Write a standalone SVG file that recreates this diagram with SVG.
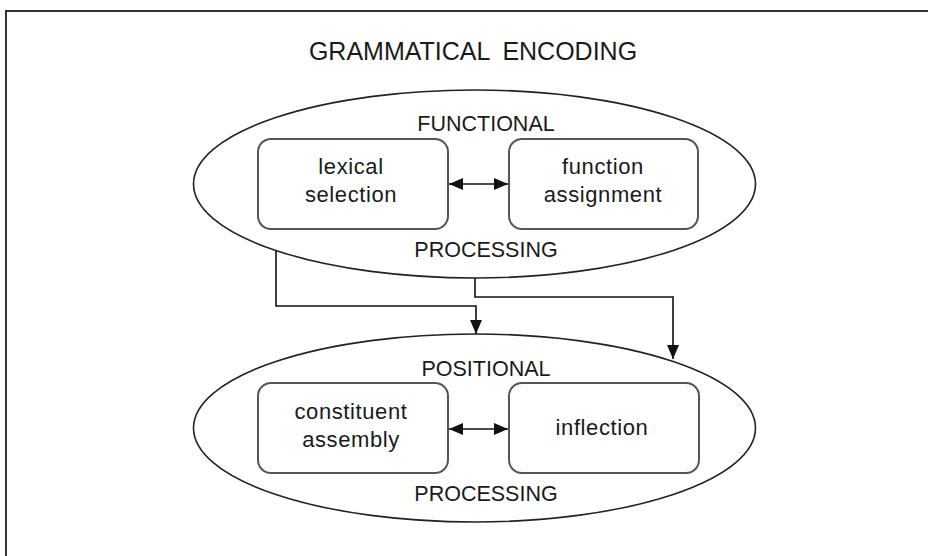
<svg xmlns="http://www.w3.org/2000/svg" width="928" height="556" viewBox="0 0 928 556">
  <style>
    .frame { fill: none; stroke: #333; stroke-width: 2; }
    .oval { fill: none; stroke: #222; stroke-width: 1.6; }
    .box { fill: #fff; stroke: #555; stroke-width: 2; }
    .label { font-family: "Liberation Sans", Arial, sans-serif; fill: #1a1a1a; text-anchor: middle; }
    .cap { font-size: 21.5px; }
    .title { font-size: 25px; word-spacing: 6px; }
    .txt { font-size: 22px; letter-spacing: 0.6px; }
    .wire { fill: none; stroke: #111; stroke-width: 1.6; }
  </style>
  <defs>
    <marker id="head" viewBox="0 0 14 12" refX="14" refY="6" markerWidth="14" markerHeight="12" markerUnits="userSpaceOnUse" orient="auto-start-reverse">
      <path d="M0,0 L14,6 L0,12 Z" fill="#111"/>
    </marker>
  </defs>

  <rect width="928" height="556" fill="#fff"/>
  <!-- outer frame (top and left edges) -->
  <path class="frame" d="M6,556 V11 H928"/>

  <text class="label title" x="473" y="60">GRAMMATICAL ENCODING</text>

  <g id="functional">
    <ellipse class="oval" cx="474.5" cy="184" rx="281" ry="94"/>
    <text class="label cap" x="486" y="131">FUNCTIONAL</text>
    <text class="label cap" x="486" y="257">PROCESSING</text>
  </g>

  <g id="lexical-selection">
    <rect class="box" x="258" y="139" width="190" height="90" rx="13"/>
    <text class="label txt" x="351" y="174">lexical</text>
    <text class="label txt" x="351" y="202">selection</text>
  </g>

  <g id="function-assignment">
    <rect class="box" x="509" y="139" width="189" height="90" rx="13"/>
    <text class="label txt" x="603" y="174">function</text>
    <text class="label txt" x="603" y="202">assignment</text>
  </g>

  <g id="positional">
    <ellipse class="oval" cx="474.5" cy="428" rx="281" ry="94"/>
    <text class="label cap" x="486" y="376">POSITIONAL</text>
    <text class="label cap" x="486" y="501">PROCESSING</text>
  </g>

  <g id="constituent-assembly">
    <rect class="box" x="258" y="383" width="190" height="90" rx="13"/>
    <text class="label txt" x="351" y="419">constituent</text>
    <text class="label txt" x="351" y="447">assembly</text>
  </g>

  <g id="inflection">
    <rect class="box" x="509" y="383" width="190" height="90" rx="13"/>
    <text class="label txt" x="602" y="435">inflection</text>
  </g>

  <g id="connectors">
    <path class="wire" d="M449,184 H508" marker-start="url(#head)" marker-end="url(#head)"/>
    <path class="wire" d="M449,429 H508" marker-start="url(#head)" marker-end="url(#head)"/>
    <path class="wire" d="M276,251 V306 H476 V334" marker-end="url(#head)"/>
    <path class="wire" d="M475,278 V297 H673 V359" marker-end="url(#head)"/>
  </g>
</svg>
